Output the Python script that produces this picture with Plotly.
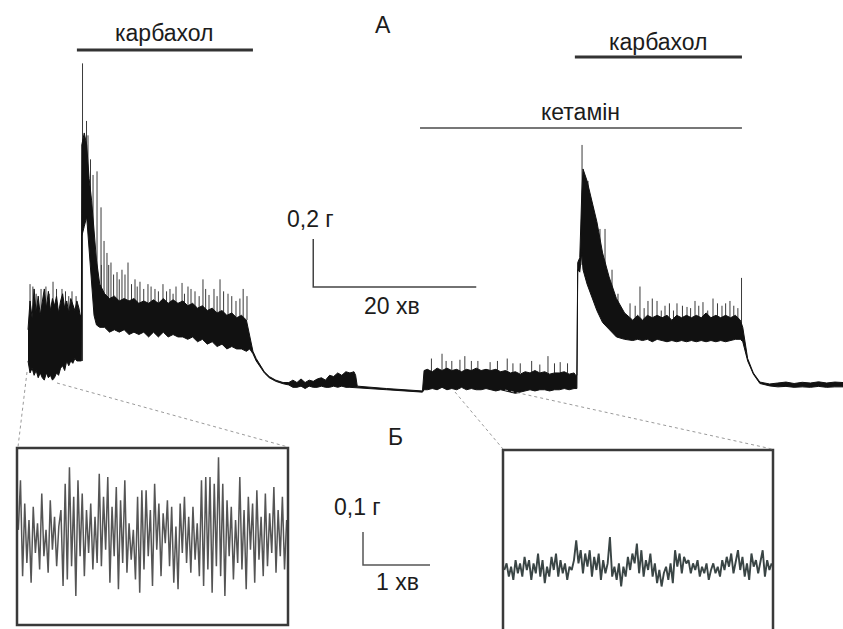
import numpy as np
import plotly.graph_objects as go

# ---------------- Main record (A): time in min, force in g ----------------
# envelope of the fast contractile activity (upper / lower edge of the dark band)
T_BASAL = [0, .25, .5, .75, 1, 1.25, 1.5, 1.75, 2, 2.25, 2.5, 2.75, 3, 3.25, 3.5, 3.75, 4, 4.25, 4.5,
           4.75, 5, 5.25, 5.5, 5.75, 6, 6.25, 6.4]
HI_BASAL = [.23, .35, .28, .40, .30, .37, .29, .35, .40, .32, .39, .31, .36, .33, .37, .30, .35, .38, .32,
            .35, .30, .36, .33, .31, .35, .32, .29]
LO_BASAL = [.10, .05, .07, .04, .06, .03, .05, .03, .02, .05, .03, .04, .02, .03, .05, .04, .07, .08, .06,
            .10, .08, .10, .09, .11, .10, .10, .10]

T_CARB1 = [6.55, 6.6, 6.9, 7.2, 7.5, 7.8, 8.1, 8.4, 8.8,
           9.4, 10.0, 10.6, 11.2, 11.8, 12.4, 13.0, 13.6, 14.2, 14.8, 15.4, 16.0, 16.6, 17.2, 17.8,
           18.4, 19.0, 19.6, 20.2, 20.8, 21.4, 22.0, 22.6, 23.2, 23.8, 24.4, 25.0, 25.6, 26.2, 26.8]
HI_CARB1 = [.29, 1.00, 1.05, 1.00, .86, .77, .66, .52, .42,
            .38, .36, .37, .35, .36, .35, .36, .34, .35, .34, .355, .34, .36, .34, .355,
            .34, .35, .33, .34, .32, .33, .31, .32, .30, .31, .29, .30, .28, .29, .27]
LO_CARB1 = [.10, .62, .66, .70, .55, .43, .29, .25, .24,
            .24, .22, .23, .22, .23, .21, .22, .21, .22, .20, .22, .20, .22, .20, .21,
            .20, .20, .19, .20, .18, .19, .17, .18, .16, .17, .15, .16, .15, .15, .14]

T_WASH1 = [27.2, 27.6, 28.0, 28.5, 29.0, 29.6, 30.4, 31.3, 32.0,
           32.5, 33, 33.5, 34, 34.5, 35, 35.5, 36, 36.5, 37, 37.5, 38, 38.5, 39, 39.5, 40,
           40.2, 40.4, 44, 48.4]
HI_WASH1 = [.20, .14, .11, .08, .055, .035, .02, .01, .01,
            .02, .01, .025, .01, .02, .015, .025, .03, .02, .04, .035, .05, .04, .055, .05, .055,
            .04, -.005, -.015, -.025]
LO_WASH1 = [.15, .13, .10, .075, .05, .03, .015, .005, 0,
            -.01, -.01, -.005, -.015, -.005, -.01, -.01, -.005, -.01, -.01, -.005, -.01, -.005, -.01, -.01, -.01,
            -.01, -.01, -.02, -.03]

T_KET = [48.6, 49, 49.6, 50.2, 50.8, 51.4, 52, 52.6, 53.2, 53.8, 54.4, 55, 55.6, 56.2, 56.8, 57.4, 58,
         58.6, 59.2, 59.8, 60.4, 61, 61.6, 62.2, 62.8, 63.4, 64, 64.6, 65.2, 65.8, 66.4, 67, 67.2]
HI_KET = [.06, .065, .055, .07, .06, .07, .06, .065, .055, .065, .06, .07, .06, .065, .06, .065, .055,
          .06, .05, .055, .045, .055, .05, .06, .05, .055, .045, .05, .05, .055, .045, .05, .04]
LO_KET = [-.02, -.02, -.015, -.02, -.01, -.02, -.015, -.02, -.01, -.02, -.015, -.02, -.02, -.015, -.02, -.025, -.02,
          -.025, -.03, -.035, -.03, -.025, -.02, -.025, -.02, -.02, -.025, -.02, -.02, -.015, -.02, -.015, -.015]

T_CARB2 = [67.35, 67.45, 67.7, 67.95, 68.1, 68.6, 69.1, 69.8, 70.5, 71.3, 72.2, 73.2, 74.2,
           74.8, 75.4, 76, 76.6, 77.2, 77.8, 78.4, 79, 79.6, 80.2, 80.8, 81.4, 82, 82.6, 83.2, 83.8,
           84.4, 85, 85.6, 86.2, 86.8, 87.4, 87.7]
HI_CARB2 = [.04, .51, .53, .80, .90, .85, .78, .68, .55, .45, .36, .30, .27,
            .29, .27, .29, .28, .29, .28, .29, .27, .29, .28, .29, .28, .29, .28, .30, .28,
            .29, .28, .29, .28, .29, .27, .24]
LO_CARB2 = [-.015, .48, .47, .55, .48, .42, .37, .31, .26, .23, .20, .19, .185,
            .19, .185, .19, .18, .19, .185, .18, .185, .18, .185, .18, .185, .18, .185, .18, .185,
            .18, .185, .18, .185, .19, .19, .18]

T_WASH2 = [88.3, 89.0, 89.8, 91, 92, 93, 94, 95, 96, 97, 98, 99, 100]
HI_WASH2 = [.11, .05, .012, .004, .008, .012, .006, .011, .008, .013, .008, .012, .01]
LO_WASH2 = [.10, .045, .006, -.004, -.008, -.006, -.01, -.008, -.01, -.006, -.01, -.008, -.008]

# individual phasic contractions standing out of the band (time, peak, foot)
SPIKE_T = [.25, .6, 1.0, 1.6, 2.2, 2.6, 3.07, 3.5, 4.17, 4.6, 5.0, 5.4, 5.9, 6.69,
           7.18, 7.36, 7.67, 7.98, 8.47, 8.96, 9.0, 9.33, 9.69, 9.9, 10.18, 10.5, 10.92, 11.2, 11.53,
           11.9, 12.27, 12.7, 13.13, 13.4, 13.74, 14.2, 14.72, 15.1, 15.58, 16.0, 16.56, 17.0, 17.42,
           17.8, 18.16, 18.9, 19.2, 19.63, 20.0, 20.49, 21.0, 21.47, 21.8, 22.21, 22.82, 23.2, 23.56,
           24.0, 24.54, 25.0, 25.52, 26.0, 26.4, 26.87,
           49.5, 50.8, 51.3, 52.0, 53.0, 53.6, 54.4, 55.2, 56.7, 57.6, 58.8, 59.5, 60.4, 61.8, 62.8,
           63.8, 64.6, 65.3, 66.2,
           67.98, 68.71, 69.33, 70.18, 70.8, 71.66, 72.39, 73.87, 74.5, 75.09, 75.6, 76.07, 76.6,
           77.18, 77.7, 78.16, 78.7, 79.2, 79.63, 80.3, 80.86, 81.3, 81.84, 82.3, 82.82, 83.4, 84.05,
           84.6, 85.15, 85.6, 86.13, 86.6, 87.1, 87.55]
SPIKE_TOP = [.42, .41, .38, .40, .41, .38, .43, .40, .40, .39, .37, .39, .37, 1.34,
             1.10, 1.04, .94, .875, .89, .74, .50, .60, .55, .50, .51, .46, .47, .44, .48,
             .46, .51, .42, .44, .41, .43, .40, .42, .41, .40, .39, .42, .39, .40,
             .38, .41, .425, .38, .41, .40, .39, .37, .44, .40, .375, .40, .37, .44,
             .39, .38, .37, .35, .36, .40, .37,
             .11, .13, .10, .10, .105, .12, .10, .10, .095, .10, .11, .09, .09, .10, .085,
             .12, .09, .095, .09,
             1.0, .85, .74, .65, .65, .48, .38, .34, .33, .41, .32, .35, .36,
             .35, .31, .33, .34, .31, .34, .33, .325, .32, .35, .33, .345, .31, .36,
             .34, .33, .34, .35, .33, .32, .446]
SPIKE_BASE = [.30, .30, .30, .30, .30, .30, .30, .30, .30, .30, .30, .30, .30, .10,
              .80, .75, .70, .60, .45, .38, .36, .35, .35, .35, .34, .34, .34, .34, .34,
              .34, .34, .34, .34, .34, .34, .33, .33, .33, .33, .33, .33, .33, .34,
              .33, .34, .33, .33, .32, .32, .31, .31, .30, .30, .30, .30, .30, .29,
              .29, .29, .28, .28, .27, .27, .27,
              .05, .06, .05, .06, .05, .06, .05, .06, .06, .05, .06, .05, .05, .05, .05,
              .05, .05, .05, .05,
              .50, .60, .50, .40, .35, .30, .27, .25, .25, .26, .25, .26, .25,
              .26, .25, .26, .25, .25, .26, .25, .26, .25, .26, .25, .26, .25, .26,
              .25, .26, .25, .26, .25, .25, .24]

# drug application periods (min)
DRUGS = ["карбахол", "кетамін", "карбахол"]
DRUG_START = [6.0, 48.1, 67.1]
DRUG_END = [27.6, 87.6, 87.6]
DRUG_LEVEL = [1.396, 1.071, 1.367]

# scale bars
SCALE_A = (0.2, 20)   # g, min
SCALE_B = (0.1, 1)    # g, min

# ---------------- Insets (Б): 4-min stretches, g around the mean ----------------
INSET_LEFT = [0.02, 0.17, -0.12, 0.10, -0.08, 0.05, -0.14, 0.09, -0.05, 0.04, -0.10, 0.13, -0.06, 0.02,
              -0.11, 0.11, -0.04, 0.06, -0.09, 0.03, 0.08, -0.15, 0.16, -0.13, 0.21, -0.09, 0.12, -0.18,
              0.17, -0.06, 0.13, -0.12, 0.08, -0.05, 0.10, -0.10, 0.06, -0.08, 0.19, -0.09, 0.12, -0.04,
              0.18, -0.14, 0.09, -0.06, 0.15, -0.16, 0.11, -0.08, 0.17, -0.11, 0.04, -0.07, 0.02, -0.13,
              0.12, -0.17, 0.14, -0.10, 0.14, -0.06, 0.08, -0.15, 0.16, -0.04, 0.10, -0.12, 0.07, -0.02,
              0.11, -0.09, 0.09, -0.14, 0.03, -0.16, 0.10, -0.05, 0.12, -0.08, 0.06, -0.11, 0.09, -0.07,
              0.04, -0.12, 0.17, -0.15, 0.18, -0.10, 0.18, -0.17, 0.16, -0.09, 0.24, -0.12, 0.16, -0.18,
              0.11, -0.06, 0.09, -0.13, 0.05, -0.08, 0.18, -0.10, 0.08, -0.16, 0.12, -0.04, 0.10, -0.14,
              0.14, -0.07, 0.06, -0.12, 0.13, -0.09, 0.07, -0.05, 0.15, -0.11, 0.08, -0.06, 0.12, -0.10,
              0.05]
INSET_RIGHT = [0.0, 0.02, -0.02, 0.01, -0.03, 0.03, -0.01, 0.02, -0.02, 0.04, 0.0, 0.03, -0.03, 0.02,
               -0.01, 0.05, -0.02, 0.03, -0.04, 0.01, -0.02, 0.04, 0.0, 0.05, -0.02, 0.03, -0.01, 0.02,
               -0.03, 0.01, 0.0, 0.03, 0.09, 0.02, 0.06, -0.01, 0.05, 0.01, 0.06, -0.02, 0.04, 0.0, 0.05,
               -0.03, 0.03, -0.01, 0.02, 0.10, -0.02, 0.01, -0.03, 0.02, -0.05, 0.01, -0.02, 0.04, 0.0,
               0.05, 0.02, 0.08, -0.01, 0.06, -0.02, 0.03, 0.0, 0.05, -0.02, 0.02, -0.04, 0.0, -0.05,
               -0.01, 0.01, -0.03, 0.02, -0.04, 0.06, 0.01, 0.05, -0.01, 0.04, 0.02, 0.03, -0.01, 0.02,
               0.0, 0.03, -0.02, 0.01, -0.01, 0.02, -0.03, 0.0, 0.02, -0.01, 0.01, -0.02, 0.03, 0.0, 0.04,
               0.01, 0.05, -0.01, 0.03, 0.06, 0.0, 0.04, -0.02, 0.02, -0.03, 0.05, 0.01, 0.03, -0.01,
               0.02, 0.06, -0.02, 0.03, 0.0, 0.02]
INSET_SPAN = 4.0  # min shown in each inset

# ---------------- build figure ----------------
t = np.concatenate([T_BASAL, T_CARB1, T_WASH1, T_KET, T_CARB2, T_WASH2])
hi = np.concatenate([HI_BASAL, HI_CARB1, HI_WASH1, HI_KET, HI_CARB2, HI_WASH2])
lo = np.concatenate([LO_BASAL, LO_CARB1, LO_WASH1, LO_KET, LO_CARB2, LO_WASH2])

fig = go.Figure()
INK = "#111111"

sx, sy = [], []
for a, b, c in zip(SPIKE_T, SPIKE_BASE, SPIKE_TOP):
    sx += [a, a, None]
    sy += [b, c, None]
fig.add_trace(go.Scatter(x=sx, y=sy, mode="lines", line=dict(color="#3a3a3a", width=1),
                         hoverinfo="skip", showlegend=False))

fig.add_trace(go.Scatter(x=np.concatenate([t, t[::-1]]), y=np.concatenate([hi, lo[::-1]]),
                         mode="lines", fill="toself", fillcolor=INK,
                         line=dict(color=INK, width=1), hoverinfo="skip", showlegend=False))

# scale bar A
gA, mA = SCALE_A
x0A, y0A = 35.0, 0.408
fig.add_trace(go.Scatter(x=[x0A, x0A, x0A + mA], y=[y0A + gA, y0A, y0A], mode="lines",
                         line=dict(color="#444", width=1.5), hoverinfo="skip", showlegend=False))

# drug bars
bar_colors = ["#333", "#777", "#333"]
bar_widths = [3, 2, 3]
for name, s, e, lv, c, w in zip(DRUGS, DRUG_START, DRUG_END, DRUG_LEVEL, bar_colors, bar_widths):
    fig.add_trace(go.Scatter(x=[s, e], y=[lv, lv], mode="lines", line=dict(color=c, width=w),
                             hoverinfo="skip", showlegend=False))
label_dy = [0.071, 0.066, 0.063]
for name, s, e, lv, dy in zip(DRUGS, DRUG_START, DRUG_END, DRUG_LEVEL, label_dy):
    fig.add_annotation(x=(s + e) / 2, y=lv + dy, text=name, showarrow=False,
                       xanchor="center", yanchor="middle")

# insets
tl = np.arange(len(INSET_LEFT)) * INSET_SPAN / (len(INSET_LEFT) - 1)
tr = np.arange(len(INSET_RIGHT)) * INSET_SPAN / (len(INSET_RIGHT) - 1)
fig.add_trace(go.Scatter(x=tl, y=INSET_LEFT, xaxis="x2", yaxis="y2", mode="lines",
                         line=dict(color="#555555", width=1.5), hoverinfo="skip", showlegend=False))
fig.add_trace(go.Scatter(x=tr, y=INSET_RIGHT, xaxis="x3", yaxis="y3", mode="lines",
                         line=dict(color="#3a4545", width=1.9), hoverinfo="skip", showlegend=False))

# scale bar B
gB, mB = SCALE_B
fig.add_trace(go.Scatter(x=[0, 0, mB], y=[gB, 0, 0], xaxis="x4", yaxis="y4", mode="lines",
                         line=dict(color="#555", width=1.5), hoverinfo="skip", showlegend=False))

W, H = 843, 629
def px(x):
    return x / W
def py(y):
    return 1 - y / H

hide = dict(visible=False, fixedrange=True)
fig.update_layout(
    width=W, height=H, margin=dict(l=0, r=0, t=0, b=0),
    paper_bgcolor="white", plot_bgcolor="rgba(0,0,0,0)",
    font=dict(family="Liberation Sans, Arial, sans-serif", size=23, color="#1c1c1c"),
    xaxis=dict(range=[-3.436, 100.0], domain=[0, 1], anchor="y", **hide),
    yaxis=dict(range=[-1.017, 1.604], domain=[0, 1], anchor="x", **hide),
    xaxis2=dict(range=[-0.02, 4.02], domain=[px(17), px(288)], anchor="y2", **hide),
    yaxis2=dict(range=[-0.268, 0.268], domain=[py(625), py(448)], anchor="x2", **hide),
    xaxis3=dict(range=[-0.02, 4.02], domain=[px(503), px(773)], anchor="y3", **hide),
    yaxis3=dict(range=[-0.179, 0.364], domain=[0, py(450)], anchor="x3", **hide),
    xaxis4=dict(range=[-0.194, 1.149], domain=[px(350), px(440)], anchor="y4", **hide),
    yaxis4=dict(range=[-0.0455, 0.136], domain=[py(580), py(520)], anchor="x4", **hide),
    showlegend=False,
)

box = dict(color="#3a3a3a", width=2.5)
dash = dict(color="#9a9a9a", width=1, dash="dot")
shapes = [
    dict(type="rect", xref="paper", yref="paper", x0=px(17), x1=px(288), y0=py(625), y1=py(448), line=box),
    dict(type="rect", xref="paper", yref="paper", x0=px(503), x1=px(773), y0=py(640), y1=py(450), line=box),
    dict(type="line", xref="paper", yref="paper", x0=px(27), y0=py(372), x1=px(18), y1=py(447), line=dash),
    dict(type="line", xref="paper", yref="paper", x0=px(57), y0=py(383), x1=px(288), y1=py(447), line=dash),
    dict(type="line", xref="paper", yref="paper", x0=px(455), y0=py(392), x1=px(503), y1=py(449), line=dash),
    dict(type="line", xref="paper", yref="paper", x0=px(505), y0=py(390), x1=px(772), y1=py(449), line=dash),
]
fig.update_layout(shapes=shapes)

def label(x, y, text):
    fig.add_annotation(xref="paper", yref="paper", x=px(x), y=py(y), text=text, showarrow=False,
                       xanchor="center", yanchor="middle")

label(383, 25, "А")
label(310, 219, "0,2 г")
label(392, 306, "20 хв")
label(395, 437, "Б")
label(357, 507, "0,1 г")
label(397, 582, "1 хв")

fig.write_html("out.html")
